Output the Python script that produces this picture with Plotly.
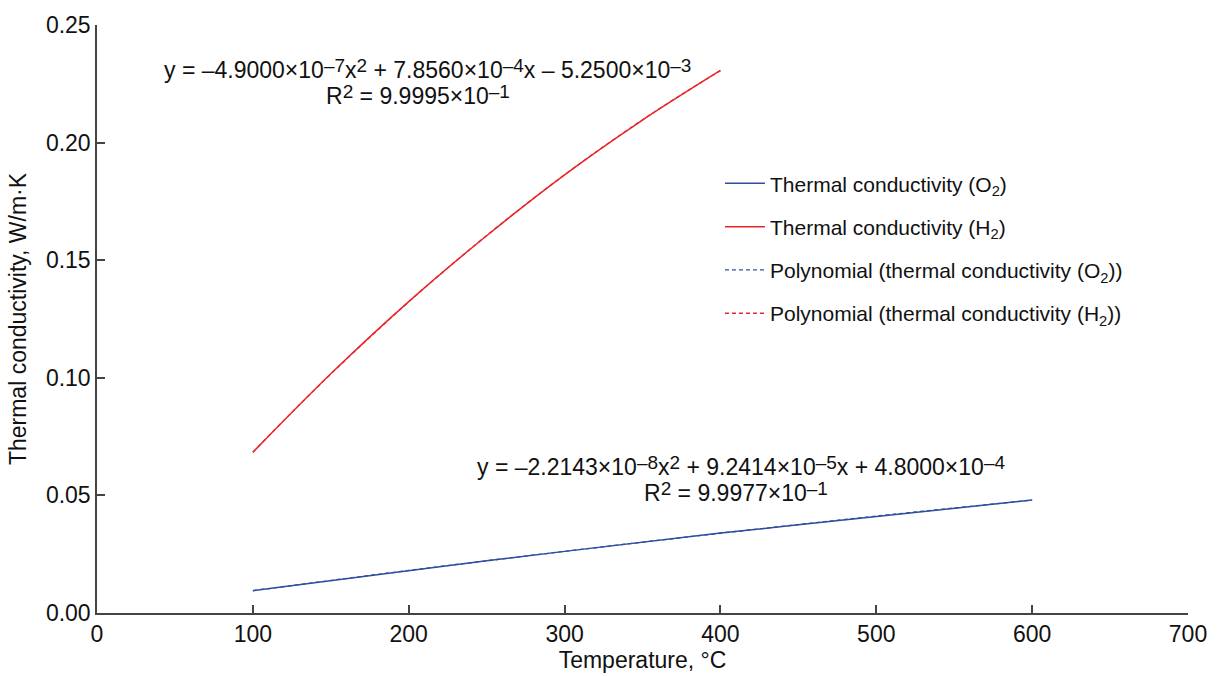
import plotly.graph_objects as go

# Temperatures (°C)
temp_h2 = [100, 150, 200, 250, 300, 350, 400]
temp_o2 = [100, 150, 200, 250, 300, 350, 400, 450, 500, 550, 600]

# Measured thermal conductivity, W/m·K
k_h2 = [0.0683, 0.1017, 0.1324, 0.1604, 0.1863, 0.2096, 0.2307]
k_o2 = [0.0095, 0.0138, 0.0182, 0.0222, 0.0262, 0.0301, 0.0340, 0.0375, 0.0411, 0.0447, 0.0480]

# Polynomial trendlines
trend_t_h2 = [100, 125, 150, 175, 200, 225, 250, 275, 300, 325, 350, 375, 400]
trend_h2 = [0.0684, 0.0853, 0.1016, 0.1172, 0.1323, 0.1467, 0.1605, 0.1737, 0.1863, 0.1983, 0.2097, 0.2204, 0.2306]
trend_t_o2 = [100, 200, 300, 400, 500, 600]
trend_o2 = [0.0095, 0.0181, 0.0262, 0.0339, 0.0412, 0.0480]

x_ticks = [0, 100, 200, 300, 400, 500, 600, 700]
y_ticks = [0.00, 0.05, 0.10, 0.15, 0.20, 0.25]

BLUE = "#2f4f9e"
RED = "#e8262a"
FONT = "Liberation Sans, Arial, sans-serif"
TXT = "#111111"


def sup(s):
    return '<span style="font-size:19px;baseline-shift:6px">' + s + '</span>'


fig = go.Figure()
fig.add_trace(go.Scatter(x=temp_o2, y=k_o2, mode="lines", line=dict(color=BLUE, width=1.5),
                         name="Thermal conductivity (O<sub>2</sub>)", legendgroup="a"))
fig.add_trace(go.Scatter(x=temp_h2, y=k_h2, mode="lines", line=dict(color=RED, width=1.5, shape="spline"),
                         name="Thermal conductivity (H<sub>2</sub>)", legendgroup="b"))
fig.add_trace(go.Scatter(x=trend_t_o2, y=trend_o2, mode="lines",
                         line=dict(color=BLUE, width=1.3, dash="4px,3px", shape="spline"),
                         name="Polynomial (thermal conductivity (O<sub>2</sub>))", legendgroup="c"))
fig.add_trace(go.Scatter(x=trend_t_h2, y=trend_h2, mode="lines",
                         line=dict(color=RED, width=1.3, dash="4px,3px", shape="spline"),
                         name="Polynomial (thermal conductivity (H<sub>2</sub>))", legendgroup="d"))

ann_font = dict(family=FONT, size=23, color=TXT)
fig.add_annotation(x=212, y=0.2312, xref="x", yref="y", showarrow=False, font=ann_font,
                   text="y = –4.9000×10" + sup("–7") + "x" + sup("2") + " + 7.8560×10" + sup("–4")
                        + "x – 5.2500×10" + sup("–3"))
fig.add_annotation(x=206, y=0.2203, xref="x", yref="y", showarrow=False, font=ann_font,
                   text="R" + sup("2") + " = 9.9995×10" + sup("–1"))
fig.add_annotation(x=413, y=0.0624, xref="x", yref="y", showarrow=False, font=ann_font,
                   text="y = –2.2143×10" + sup("–8") + "x" + sup("2") + " + 9.2414×10" + sup("–5")
                        + "x + 4.8000×10" + sup("–4"))
fig.add_annotation(x=410, y=0.0515, xref="x", yref="y", showarrow=False, font=ann_font,
                   text="R" + sup("2") + " = 9.9977×10" + sup("–1"))

fig.update_layout(
    width=1221, height=676,
    margin=dict(l=97, r=33, t=18, b=61),
    paper_bgcolor="white", plot_bgcolor="white",
    font=dict(family=FONT, size=22, color=TXT),
    showlegend=True,
    legend=dict(x=0.571, y=0.765, xanchor="left", yanchor="top", bgcolor="rgba(0,0,0,0)",
                font=dict(family=FONT, size=21, color=TXT), tracegroupgap=13, itemwidth=40),
    xaxis=dict(range=[0, 700], tickvals=x_ticks, ticktext=[str(v) for v in x_ticks],
               showgrid=False, zeroline=False, showline=True, linecolor="#444444", linewidth=1.5,
               ticks="inside", ticklen=8, tickcolor="#444444", tickwidth=1.5,
               tickfont=dict(size=23),
               title=dict(text="Temperature, °C", font=dict(size=23), standoff=1)),
    yaxis=dict(range=[0, 0.25], tickvals=y_ticks, tickformat=".2f",
               showgrid=False, zeroline=False, showline=True, linecolor="#444444", linewidth=1.5,
               ticks="inside", ticklen=8, tickcolor="#444444", tickwidth=1.5,
               tickfont=dict(size=23),
               title=dict(text="Thermal conductivity, W/m·K", font=dict(size=23), standoff=13)),
)

fig.write_html("out.html")
